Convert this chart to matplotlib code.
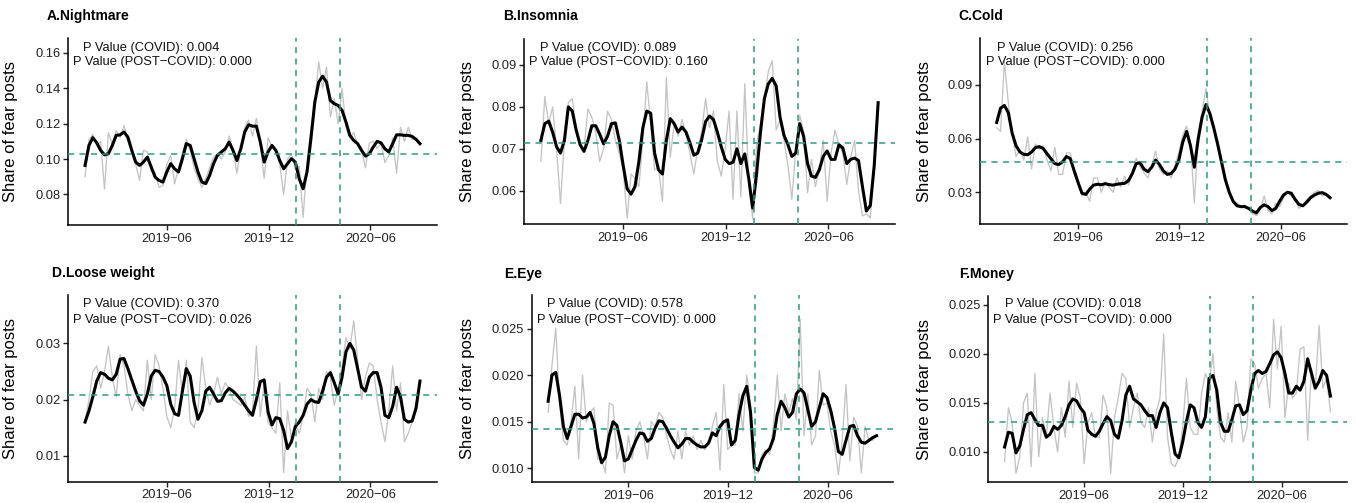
import matplotlib
matplotlib.use("Agg")
import matplotlib.pyplot as plt
import matplotlib.dates as mdates
import numpy as np
import pandas as pd

plt.rcParams['font.family'] = ['Liberation Sans', 'DejaVu Sans']

# ---------------- data ----------------
start_date = "2019-01-05"
covid_date = "2020-01-20"
post_covid_date = "2020-04-08"
xtick_dates = ["2019-06-01", "2019-12-01", "2020-06-01"]
xtick_labels = ["2019\u221206", "2019\u221212", "2020\u221206"]

titles = ["A.Nightmare", "B.Insomnia", "C.Cold", "D.Loose weight", "E.Eye", "F.Money"]
p_covid = ["0.004", "0.089", "0.256", "0.370", "0.578", "0.018"]
p_post = ["0.000", "0.160", "0.000", "0.026", "0.000", "0.000"]
mean_lines = [0.1027, 0.0715, 0.0468, 0.0208, 0.0142, 0.0131]

yticks_list = [
    [0.08, 0.10, 0.12, 0.14, 0.16],
    [0.06, 0.07, 0.08, 0.09],
    [0.03, 0.06, 0.09],
    [0.01, 0.02, 0.03],
    [0.010, 0.015, 0.020, 0.025],
    [0.010, 0.015, 0.020, 0.025],
]
ytick_labels = [
    ["0.08", "0.10", "0.12", "0.14", "0.16"],
    ["0.06", "0.07", "0.08", "0.09"],
    ["0.03", "0.06", "0.09"],
    ["0.01", "0.02", "0.03"],
    ["0.010", "0.015", "0.020", "0.025"],
    ["0.010", "0.015", "0.020", "0.025"],
]
ylims = [(0.0627, 0.1683), (0.0521, 0.0961), (0.0123, 0.116),
         (0.0054, 0.0386), (0.0085, 0.0286), (0.0069, 0.0259)]

nightmare_smooth = [
    0.0964, 0.1077, 0.1121, 0.1092, 0.1049, 0.1024, 0.1030, 0.1077, 0.1134, 0.1137,
    0.1153, 0.1124, 0.1049, 0.0983, 0.0964, 0.0983, 0.1011, 0.0955, 0.0898, 0.0879,
    0.0870, 0.0927, 0.0974, 0.0945, 0.0927, 0.1002, 0.1087, 0.1077, 0.1002, 0.0927,
    0.0870, 0.0861, 0.0908, 0.0974, 0.1021, 0.1040, 0.1058, 0.1096, 0.1049, 0.0992,
    0.1058, 0.1153, 0.1194, 0.1186, 0.1186, 0.1096, 0.0983, 0.1040, 0.1077, 0.1049,
    0.0992, 0.0945, 0.0974, 0.1002, 0.0983, 0.0889, 0.0832, 0.0927, 0.1115, 0.1322,
    0.1435, 0.1469, 0.1435, 0.1331, 0.1313, 0.1303, 0.1275, 0.1209, 0.1134, 0.1105,
    0.1087, 0.1049, 0.1017, 0.1030, 0.1068, 0.1100, 0.1092, 0.1058, 0.1040, 0.1087,
    0.1137, 0.1137, 0.1134, 0.1134, 0.1128, 0.1111, 0.1087]
nightmare_raw = [
    0.090, 0.111, 0.114, 0.108, 0.110, 0.083, 0.115, 0.108, 0.116, 0.112,
    0.119, 0.110, 0.104, 0.097, 0.088, 0.105, 0.104, 0.093, 0.092, 0.084,
    0.085, 0.097, 0.102, 0.086, 0.095, 0.103, 0.111, 0.105, 0.095, 0.089,
    0.084, 0.089, 0.095, 0.101, 0.103, 0.100, 0.104, 0.113, 0.105, 0.092,
    0.106, 0.118, 0.122, 0.113, 0.123, 0.108, 0.089, 0.112, 0.107, 0.105,
    0.097, 0.080, 0.100, 0.103, 0.094, 0.096, 0.067, 0.098, 0.117, 0.131,
    0.155, 0.140, 0.152, 0.124, 0.134, 0.120, 0.140, 0.118, 0.112, 0.115,
    0.108, 0.105, 0.095, 0.109, 0.110, 0.106, 0.109, 0.098, 0.102, 0.112,
    0.092, 0.118, 0.110, 0.118, 0.111, 0.112, 0.108]

insomnia_smooth = [
    0.0720, 0.0760, 0.0766, 0.0740, 0.0705, 0.0690, 0.0720, 0.0800, 0.0790, 0.0745,
    0.0710, 0.0694, 0.0720, 0.0755, 0.0755, 0.0735, 0.0712, 0.0730, 0.0760, 0.0762,
    0.0720, 0.0660, 0.0605, 0.0592, 0.0610, 0.0670, 0.0750, 0.0790, 0.0785, 0.0690,
    0.0650, 0.0640, 0.0720, 0.0772, 0.0760, 0.0740, 0.0752, 0.0740, 0.0715, 0.0685,
    0.0690, 0.0722, 0.0765, 0.0778, 0.0770, 0.0740, 0.0705, 0.0675, 0.0665, 0.0668,
    0.0700, 0.0665, 0.0688, 0.0630, 0.0559, 0.0640, 0.0740, 0.0820, 0.0855, 0.0868,
    0.0850, 0.0775, 0.0732, 0.0710, 0.0682, 0.0690, 0.0760, 0.0730, 0.0665, 0.0635,
    0.0632, 0.0650, 0.0682, 0.0695, 0.0675, 0.0675, 0.0710, 0.0702, 0.0665, 0.0675,
    0.0678, 0.0672, 0.0610, 0.0552, 0.0565, 0.0660, 0.0810]
insomnia_raw = [
    0.0670, 0.0825, 0.0760, 0.0800, 0.0700, 0.0570, 0.0720, 0.0810, 0.0820, 0.0750,
    0.0710, 0.0700, 0.0795, 0.0775, 0.0740, 0.0670, 0.0700, 0.0790, 0.0770, 0.0720,
    0.0690, 0.0650, 0.0535, 0.0640, 0.0630, 0.0610, 0.0720, 0.0860, 0.0760, 0.0650,
    0.0655, 0.0575, 0.0870, 0.0680, 0.0760, 0.0730, 0.0770, 0.0735, 0.0690, 0.0640,
    0.0700, 0.0740, 0.0820, 0.0750, 0.0790, 0.0670, 0.0635, 0.0700, 0.0790, 0.0580,
    0.0790, 0.0585, 0.0855, 0.0620, 0.0535, 0.0710, 0.0760, 0.0820, 0.0885, 0.0910,
    0.0745, 0.0770, 0.0720, 0.0660, 0.0580, 0.0700, 0.0780, 0.0740, 0.0595, 0.0675,
    0.0610, 0.0650, 0.0720, 0.0575, 0.0690, 0.0745, 0.0710, 0.0690, 0.0615, 0.0680,
    0.0720, 0.0600, 0.0540, 0.0545, 0.0535, 0.0650, 0.0810]

cold_smooth = [
    0.0690, 0.0770, 0.0785, 0.0745, 0.0630, 0.0560, 0.0525, 0.0512, 0.0510, 0.0525,
    0.0550, 0.0555, 0.0545, 0.0515, 0.0488, 0.0460, 0.0455, 0.0470, 0.0500, 0.0488,
    0.0420, 0.0355, 0.0295, 0.0288, 0.0318, 0.0340, 0.0345, 0.0342, 0.0348, 0.0343,
    0.0340, 0.0345, 0.0348, 0.0350, 0.0365, 0.0405, 0.0460, 0.0465, 0.0430, 0.0415,
    0.0440, 0.0480, 0.0455, 0.0420, 0.0400, 0.0405, 0.0430, 0.0480, 0.0580, 0.0640,
    0.0560, 0.0440, 0.0600, 0.0720, 0.0790, 0.0740, 0.0660, 0.0570, 0.0470, 0.0370,
    0.0300, 0.0250, 0.0225, 0.0220, 0.0220, 0.0210, 0.0195, 0.0185, 0.0215, 0.0230,
    0.0220, 0.0198, 0.0210, 0.0250, 0.0285, 0.0300, 0.0295, 0.0260, 0.0232, 0.0225,
    0.0245, 0.0270, 0.0285, 0.0295, 0.0298, 0.0288, 0.0270]
cold_raw = [
    0.066, 0.064, 0.103, 0.080, 0.063, 0.050, 0.054, 0.048, 0.061, 0.043,
    0.057, 0.054, 0.056, 0.048, 0.042, 0.055, 0.040, 0.040, 0.052, 0.052,
    0.040, 0.036, 0.028, 0.030, 0.025, 0.038, 0.038, 0.030, 0.036, 0.033,
    0.030, 0.038, 0.033, 0.039, 0.034, 0.041, 0.049, 0.044, 0.041, 0.038,
    0.045, 0.053, 0.043, 0.040, 0.042, 0.038, 0.045, 0.052, 0.062, 0.067,
    0.058, 0.024, 0.062, 0.075, 0.088, 0.072, 0.066, 0.055, 0.046, 0.036,
    0.030, 0.024, 0.024, 0.022, 0.023, 0.021, 0.018, 0.017, 0.020, 0.028,
    0.020, 0.018, 0.024, 0.022, 0.027, 0.030, 0.028, 0.026, 0.021, 0.023,
    0.026, 0.028, 0.030, 0.031, 0.028, 0.029, 0.027]

weight_smooth = [
    0.0160, 0.0180, 0.0205, 0.0233, 0.0248, 0.0245, 0.0238, 0.0235, 0.0245, 0.0272,
    0.0273, 0.0255, 0.0235, 0.0215, 0.0198, 0.0190, 0.0210, 0.0242, 0.0252, 0.0250,
    0.0240, 0.0225, 0.0192, 0.0175, 0.0172, 0.0215, 0.0255, 0.0242, 0.0195, 0.0165,
    0.0180, 0.0215, 0.0222, 0.0210, 0.0197, 0.0198, 0.0212, 0.0220, 0.0215, 0.0208,
    0.0200, 0.0190, 0.0180, 0.0172, 0.0200, 0.0232, 0.0235, 0.0178, 0.0155, 0.0168,
    0.0166, 0.0145, 0.0113, 0.0125, 0.0152, 0.0160, 0.0172, 0.0192, 0.0200, 0.0196,
    0.0195, 0.0215, 0.0240, 0.0248, 0.0230, 0.0210, 0.0240, 0.0285, 0.0300, 0.0288,
    0.0255, 0.0222, 0.0215, 0.0240, 0.0248, 0.0248, 0.0222, 0.0172, 0.0168, 0.0188,
    0.0222, 0.0205, 0.0165, 0.0160, 0.0162, 0.0185, 0.0233]
weight_raw = [
    0.016, 0.020, 0.025, 0.026, 0.022, 0.025, 0.0295, 0.024, 0.0205, 0.028,
    0.026, 0.021, 0.018, 0.020, 0.019, 0.018, 0.027, 0.020, 0.028, 0.026,
    0.022, 0.017, 0.015, 0.0185, 0.027, 0.021, 0.027, 0.016, 0.015, 0.018,
    0.0275, 0.022, 0.019, 0.021, 0.024, 0.021, 0.023, 0.022, 0.020, 0.0195,
    0.019, 0.0205, 0.017, 0.018, 0.0295, 0.017, 0.023, 0.016, 0.015, 0.014,
    0.023, 0.007, 0.018, 0.013, 0.016, 0.014, 0.017, 0.022, 0.021, 0.016,
    0.022, 0.020, 0.025, 0.024, 0.019, 0.022, 0.026, 0.031, 0.029, 0.034,
    0.027, 0.020, 0.024, 0.0265, 0.026, 0.020, 0.016, 0.0125, 0.018, 0.026,
    0.018, 0.023, 0.0125, 0.014, 0.016, 0.019, 0.023]

eye_smooth = [
    0.0172, 0.0200, 0.0203, 0.0178, 0.0145, 0.0132, 0.0145, 0.0158, 0.0158, 0.0154,
    0.0155, 0.0160, 0.0148, 0.0122, 0.0106, 0.0112, 0.0135, 0.0150, 0.0146, 0.0128,
    0.0108, 0.0110, 0.0120, 0.0130, 0.0138, 0.0137, 0.0129, 0.0132, 0.0143, 0.0151,
    0.0150, 0.0143, 0.0135, 0.0128, 0.0122, 0.0126, 0.0132, 0.0132, 0.0128, 0.0125,
    0.0123, 0.0123, 0.0127, 0.0138, 0.0135, 0.0145, 0.0150, 0.0152, 0.0125, 0.0130,
    0.0158, 0.0178, 0.0188, 0.0160, 0.0101, 0.0098, 0.0110, 0.0117, 0.0121, 0.0132,
    0.0158, 0.0172, 0.0165, 0.0155, 0.0160, 0.0180, 0.0185, 0.0181, 0.0163, 0.0145,
    0.0150, 0.0165, 0.0180, 0.0176, 0.0162, 0.0143, 0.0118, 0.0115, 0.0130, 0.0145,
    0.0146, 0.0135, 0.0128, 0.0127, 0.0130, 0.0133, 0.0135]
eye_raw = [
    0.016, 0.021, 0.025, 0.017, 0.013, 0.0125, 0.015, 0.0188, 0.011, 0.020,
    0.015, 0.016, 0.0165, 0.011, 0.011, 0.0095, 0.017, 0.0168, 0.011, 0.0125,
    0.0095, 0.0135, 0.011, 0.014, 0.015, 0.0135, 0.011, 0.015, 0.0145, 0.016,
    0.0155, 0.0135, 0.012, 0.011, 0.014, 0.011, 0.014, 0.0125, 0.0135, 0.012,
    0.013, 0.012, 0.0125, 0.0145, 0.016, 0.0098, 0.019, 0.012, 0.0125, 0.0125,
    0.018, 0.014, 0.020, 0.017, 0.0095, 0.0095, 0.0115, 0.012, 0.0115, 0.0145,
    0.020, 0.014, 0.018, 0.016, 0.0175, 0.0152, 0.026, 0.0135, 0.018, 0.0125,
    0.0135, 0.0205, 0.0168, 0.017, 0.014, 0.0125, 0.0093, 0.013, 0.019, 0.0108,
    0.0155, 0.0145, 0.0095, 0.0145, 0.013, 0.013, 0.0135]

money_smooth = [
    0.0105, 0.0120, 0.0119, 0.0099, 0.0106, 0.0123, 0.0138, 0.0140, 0.0133, 0.0127,
    0.0127, 0.0115, 0.0118, 0.0126, 0.0123, 0.0127, 0.0136, 0.0148, 0.0154, 0.0152,
    0.0145, 0.0140, 0.0122, 0.0118, 0.0116, 0.0121, 0.0129, 0.0136, 0.0132, 0.0118,
    0.0114, 0.0132, 0.0158, 0.0167, 0.0154, 0.0151, 0.0148, 0.0142, 0.0137, 0.0137,
    0.0125, 0.0140, 0.0150, 0.0145, 0.0120, 0.0098, 0.0094, 0.0110, 0.0131, 0.0148,
    0.0145, 0.0130, 0.0125, 0.0136, 0.0175, 0.0178, 0.0163, 0.0130, 0.0121, 0.0121,
    0.0133, 0.0147, 0.0148, 0.0138, 0.0142, 0.0163, 0.0180, 0.0183, 0.0180, 0.0182,
    0.0190, 0.0199, 0.0202, 0.0196, 0.0180, 0.0160, 0.0160, 0.0167, 0.0163, 0.0172,
    0.0195, 0.0180, 0.0165, 0.0172, 0.0183, 0.0178, 0.0157]
money_raw = [
    0.009, 0.0145, 0.013, 0.0078, 0.0095, 0.015, 0.016, 0.0085, 0.018, 0.0095,
    0.0135, 0.0115, 0.016, 0.0125, 0.010, 0.0145, 0.0115, 0.0172, 0.0125, 0.017,
    0.0155, 0.0088, 0.013, 0.014, 0.0115, 0.0115, 0.0158, 0.0145, 0.0078, 0.0135,
    0.0155, 0.018, 0.0175, 0.0125, 0.0145, 0.016, 0.013, 0.0125, 0.0145, 0.011,
    0.014, 0.0155, 0.022, 0.0115, 0.0088, 0.0085, 0.0095, 0.0125, 0.0175, 0.0125,
    0.0118, 0.0118, 0.016, 0.018, 0.017, 0.020, 0.0145, 0.0115, 0.011, 0.014,
    0.011, 0.0172, 0.0145, 0.011, 0.0125, 0.0195, 0.019, 0.0165, 0.0175, 0.018,
    0.0145, 0.0235, 0.0185, 0.0228, 0.0135, 0.017, 0.0155, 0.016, 0.0205, 0.0207,
    0.0112, 0.0185, 0.0165, 0.0229, 0.0165, 0.0175, 0.0141]

smooth_series = [nightmare_smooth, insomnia_smooth, cold_smooth, weight_smooth, eye_smooth, money_smooth]
raw_series = [nightmare_raw, insomnia_raw, cold_raw, weight_raw, eye_raw, money_raw]

# ---------------- layout (pixels) ----------------
W, H = 1356, 503
# left, right, top, bottom
boxes = [(68.3, 436.7, 38.3, 225), (524, 895, 39.3, 224), (980, 1346.7, 38.3, 224),
         (68.3, 436.7, 295, 481.7), (531.7, 893, 295, 482.3), (988.3, 1346.7, 296, 482.3)]
title_pos = [(46.7, 15.7), (503.3, 15.7), (958.3, 15.7), (51.7, 272.7), (504.3, 274), (959.3, 274)]
ann_pos = [((82.7, 47.7), (73.3, 62.3)), ((540, 47.7), (529, 62.3)), ((996.7, 47.7), (986, 62.3)),
           ((82.7, 304), (72.7, 320)), ((547.3, 304), (536.7, 320)), ((1005, 304), (993.3, 320))]
ylabel_x = [18.3, 475, 931.7, 18.3, 475, 931.7]

teal = "#2A9D80"
fig = plt.figure(figsize=(W / 100, H / 100), dpi=100)

for k in range(6):
    l, r, t, b = boxes[k]
    ax = fig.add_axes([l / W, 1 - b / H, (r - l) / W, (b - t) / H])
    raw = raw_series[k]
    sm = smooth_series[k]
    d_raw = pd.date_range(start_date, periods=len(raw), freq="7D")
    d_sm = pd.date_range(start_date, periods=len(sm), freq="7D")
    ax.plot(d_raw, raw, color="#C4C4C4", lw=0.95, zorder=2)
    ax.plot(d_sm, sm, color="black", lw=2.2, zorder=3, solid_joinstyle="round")
    ax.axhline(mean_lines[k], color=teal, lw=1.1, ls=(0, (4, 3.5)), zorder=4)
    for vd in (covid_date, post_covid_date):
        ax.axvline(pd.Timestamp(vd), color=teal, lw=1.1, ls=(0, (4, 3.5)), zorder=4)

    d0 = d_sm[0]
    d1 = d_sm[-1]
    span = d1 - d0
    ax.set_xlim(d0 - span * 0.05, d1 + span * 0.05)
    ax.set_ylim(*ylims[k])
    ax.set_xticks([pd.Timestamp(x) for x in xtick_dates])
    ax.set_xticklabels(xtick_labels)
    ax.set_yticks(yticks_list[k])
    ax.set_yticklabels(ytick_labels[k])
    ax.tick_params(labelsize=9.3, colors="#222222", length=3.5, width=1.0, pad=2)
    for s in ("top", "right"):
        ax.spines[s].set_visible(False)
    for s in ("left", "bottom"):
        ax.spines[s].set_linewidth(1.1)
        ax.spines[s].set_color("black")
    ax.set_ylabel("Share of fear posts", fontsize=12, color="black")
    ax.yaxis.set_label_coords((ylabel_x[k] - l) / (r - l), 0.5)

    tx, ty = title_pos[k]
    fig.text(tx / W, 1 - ty / H, titles[k], fontsize=10, fontweight="bold",
             ha="left", va="center")
    (x1, y1), (x2, y2) = ann_pos[k]
    fig.text(x1 / W, 1 - y1 / H, "P Value (COVID): " + p_covid[k], fontsize=9.3,
             ha="left", va="center", color="#111111")
    fig.text(x2 / W, 1 - y2 / H, "P Value (POST\u2212COVID): " + p_post[k], fontsize=9.3,
             ha="left", va="center", color="#111111")

fig.savefig("out.png", dpi=100)
